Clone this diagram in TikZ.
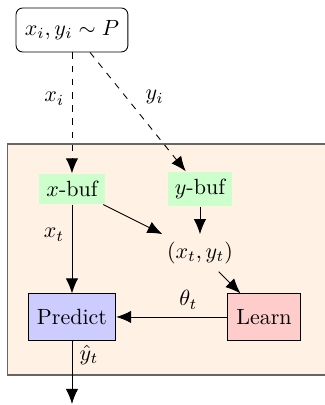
\documentclass[tikz,border=0pt]{standalone}
\usetikzlibrary{arrows.meta,positioning,calc,backgrounds}

\begin{document}
\begin{tikzpicture}[>={Latex[length=6.8pt,width=5.6pt]},on grid,
 source/.style={draw,rounded corners=3pt,inner sep=4pt,minimum height=20pt},
 buf/.style={fill=green!20},
 block/.style={draw,inner sep=4pt,minimum height=21pt},
 panel/.style={draw=black!60,line width=0.8pt,fill=orange!10},
 feed/.style={->,dashed}, flow/.style={->}]
\useasboundingbox (-1.15,0.479) rectangle (4.027,-5.992);
\node[source] (src) at (0,0) {$x_i, y_i \sim P$};
\node[buf,below=2.54cm of src] (xbuf) {$x$-buf};
\node[buf,right=2.045cm of xbuf] (ybuf) {$y$-buf};
\node[below=1.022cm of ybuf] (pair) {$(x_t, y_t)$};
\node[block,fill=blue!20,below=2.045cm of xbuf] (predict) {Predict};
\node[block,fill=red!20,right=3.068cm of predict] (learn) {Learn};
\coordinate[below=1.39cm of predict] (out);

\begin{scope}[on background layer]
\draw[panel] ($(xbuf)+(-1.03,0.72)$) rectangle ($(learn)+(1.2,-0.926)$);
\end{scope}

\draw[feed] (src) -- node[above left] {$x_i$} (xbuf);
\draw[feed] (src) -- node[above right] {$y_i$} (ybuf);
\draw[flow] (xbuf) -- node[above left] {$x_t$} (predict);
\draw[flow] (xbuf) -- (pair);
\draw[flow] (ybuf) -- (pair);
\draw[flow] (pair) -- (learn);
\draw[flow] (learn) -- node[above right] {$\theta_t$} (predict);
\draw[flow] (predict) -- node[above right] {$\hat{y}_t$} (out);
\end{tikzpicture}
\end{document}
